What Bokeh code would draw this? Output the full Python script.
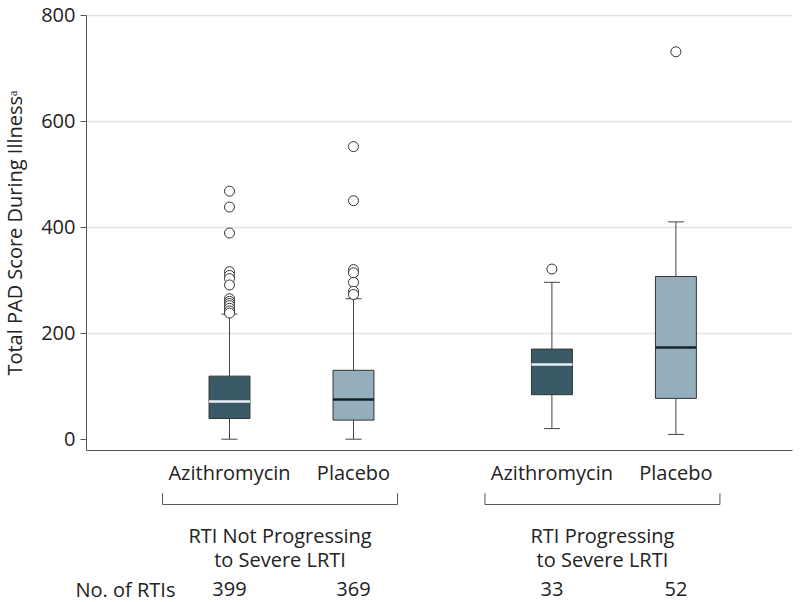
from bokeh.plotting import figure
from bokeh.models import Range1d, FixedTicker, ColumnDataSource, Grid
from bokeh.core.properties import value
from bokeh.embed import file_html
from bokeh.resources import INLINE

# ---------------- data ----------------
groups = ["RTI Not Progressing", "RTI Progressing"]
group_line2 = ["to Severe LRTI", "to Severe LRTI"]
treatments = ["Azithromycin", "Placebo", "Azithromycin", "Placebo"]
n_rtis = [399, 369, 33, 52]
whisker_low = [0, 0, 20, 9]
q1 = [39, 36, 84, 77]
median = [71, 75, 141, 173]
q3 = [119, 130, 170, 307]
whisker_high = [236, 265, 296, 410]
outliers = [
    [468, 438, 389, 316, 309, 303, 291, 265, 260, 256, 252, 247, 242, 238],
    [552, 450, 320, 314, 296, 279, 273],
    [321],
    [731],
]
y_ticks = [0, 200, 400, 600, 800]
grid_ticks = [200, 400, 600, 800]

# ---------------- layout ----------------
FONT = "Open Sans"
TXT = "#222222"
AX = "#555555"
pos = [10, 20, 36, 46]          # box centres (x units)
box_w = 3.3
cap_w = 1.3
fills = ["#3b5a67", "#94afbb", "#3b5a67", "#94afbb"]
med_cols = ["#e8f2f4", "#15232a", "#e8f2f4", "#15232a"]

X0, X1 = -8.468, 56.048        # full canvas in x
Y0, Y1 = -308.1, 827.7         # full canvas in y
SPINE_X = -1.532
RIGHT_X = 55.403
BASE_Y = -21.3                 # bottom axis line
PX = 1 / 0.53                  # y units per pixel


def below(px):
    return BASE_Y - px * PX


p = figure(width=800, height=602, min_border=0,
           x_range=Range1d(X0, X1), y_range=Range1d(Y0, Y1),
           output_backend="svg", toolbar_location=None, tools="")
p.outline_line_color = None
p.background_fill_color = "white"
p.border_fill_color = "white"

# y axis (fixed inside frame)
ya = p.yaxis[0]
ya.fixed_location = SPINE_X
ya.bounds = (BASE_Y, 800)
ya.ticker = FixedTicker(ticks=y_ticks)
ya.axis_label = "Total PAD Score During Illness\u1d43"
ya.axis_label_text_font = FONT
ya.axis_label_text_font_size = "20px"
ya.axis_label_text_font_style = "normal"
ya.axis_label_text_color = TXT
ya.axis_label_standoff = 10
ya.major_label_text_font = FONT
ya.major_label_text_font_size = "20px"
ya.major_label_text_color = TXT
ya.major_label_standoff = 5
ya.major_tick_out = 6
ya.major_tick_in = 0
ya.minor_tick_line_color = None
ya.axis_line_color = AX
ya.major_tick_line_color = AX

# x axis (fixed) with treatment names
xa = p.xaxis[0]
xa.fixed_location = BASE_Y
xa.bounds = (SPINE_X, RIGHT_X)
xa.ticker = FixedTicker(ticks=pos)
xa.major_label_overrides = {pp: t for pp, t in zip(pos, treatments)}
xa.major_label_text_font = FONT
xa.major_label_text_font_size = "20px"
xa.major_label_text_color = TXT
xa.major_label_standoff = 9
xa.major_tick_out = 0
xa.major_tick_in = 0
xa.major_tick_line_color = None
xa.minor_tick_line_color = None
xa.axis_line_color = AX

# grid
p.xgrid.grid_line_color = None
if "cross_bounds" in Grid.properties():
    p.ygrid.ticker = FixedTicker(ticks=grid_ticks)
    p.ygrid.cross_bounds = (SPINE_X, RIGHT_X)
    p.ygrid.grid_line_color = "#e2e2e2"
    p.ygrid.grid_line_width = 1.5
else:
    p.ygrid.grid_line_color = None
    p.segment(x0=[SPINE_X] * len(grid_ticks), y0=grid_ticks, x1=[RIGHT_X] * len(grid_ticks),
              y1=grid_ticks, line_color="#e2e2e2", line_width=1.5, level="underlay")

# whiskers
src = ColumnDataSource(dict(x=pos, lo=whisker_low, q1=q1, med=median, q3=q3, hi=whisker_high,
                            fill=fills, medc=med_cols))
p.segment(x0="x", y0="lo", x1="x", y1="q1", source=src, line_color="#444444", line_width=1)
p.segment(x0="x", y0="q3", x1="x", y1="hi", source=src, line_color="#444444", line_width=1)
cap_l = [x - cap_w / 2 for x in pos]
cap_r = [x + cap_w / 2 for x in pos]
p.segment(x0=cap_l, y0=whisker_low, x1=cap_r, y1=whisker_low, line_color="#444444", line_width=1)
p.segment(x0=cap_l, y0=whisker_high, x1=cap_r, y1=whisker_high, line_color="#444444", line_width=1)

# boxes
p.vbar(x="x", width=box_w, bottom="q1", top="q3", source=src, fill_color="fill",
       line_color="#333333", line_width=1)
bl = [x - box_w / 2 for x in pos]
br = [x + box_w / 2 for x in pos]
p.segment(x0=bl, y0=median, x1=br, y1=median, line_color=med_cols, line_width=2.5)

# outliers
ox, oy = [], []
for x, vals in zip(pos, outliers):
    ox += [x] * len(vals)
    oy += vals
p.scatter(ox, oy, size=10, marker="circle", fill_color="white", line_color="#333333", line_width=1)

# group brackets and labels
bx, by, gx = [], [], []
for a, b in zip([pos[0], pos[2]], [pos[1], pos[3]]):
    L = a - 5.4
    R = b + 3.55
    bx.append([L, L, R, R])
    by.append([below(42.7), below(54), below(54), below(42.7)])
    gx.append((L + R) / 2)
p.multi_line(bx, by, line_color=AX, line_width=1)

txt = dict(text_font=value(FONT), text_font_size="20px", text_color=TXT,
           text_baseline="alphabetic")
p.text(x=gx, y=[below(85)] * 2, text=groups, text_align="center", **txt)
p.text(x=gx, y=[below(109.3)] * 2, text=group_line2, text_align="center", **txt)
p.text(x=[SPINE_X - 11 / 12.4], y=[below(139)], text=["No. of RTIs"], text_align="left", **txt)
p.text(x=pos, y=[below(139)] * len(pos), text=[str(n) for n in n_rtis], text_align="center", **txt)

open("out.html", "w").write(file_html(p, INLINE))
